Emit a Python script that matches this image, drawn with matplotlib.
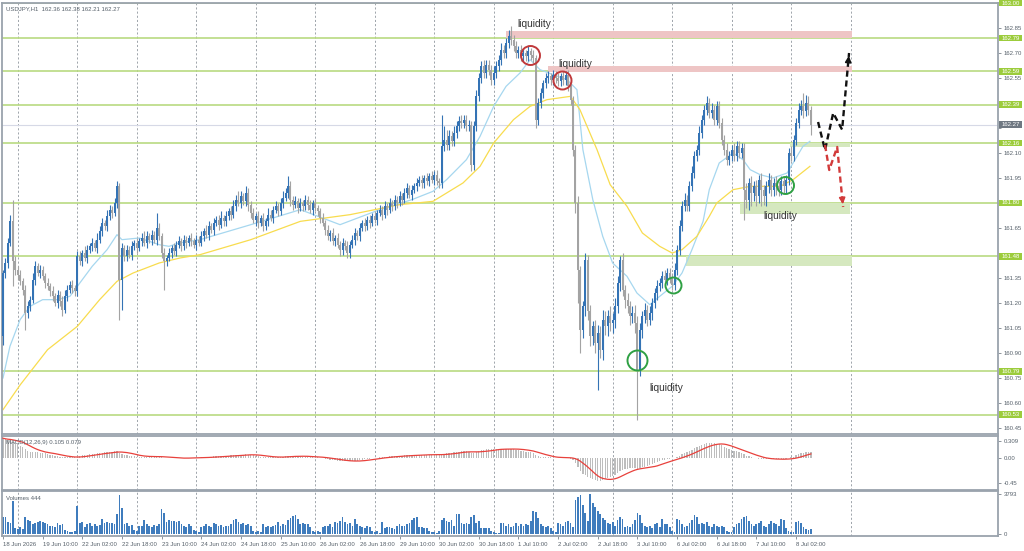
import numpy as np
import pandas as pd
import matplotlib
matplotlib.use('Agg')
import matplotlib.pyplot as plt
from matplotlib.patches import Rectangle
import matplotlib.transforms as mtransforms

plt.rcParams['font.family'] = ['Liberation Sans', 'DejaVu Sans']

# ---- data (USDJPY H1) ----
base_price = 160.00
first_open = 161.00
# closes in pips above 160.00, one per hourly bar
closes_pips = [
    138, 144, 156, 169, 145, 140, 137, 133, 128, 114,
    118, 122, 134, 142, 138, 140, 136, 132, 130, 127,
    124, 120, 125, 121, 116, 124, 128, 131, 129, 127,
    148, 145, 150, 147, 152, 154, 156, 153, 158, 163,
    168, 166, 172, 176, 174, 180, 190, 134, 153, 148,
    152, 149, 154, 156, 153, 157, 159, 156, 160, 158,
    161, 158, 165, 160, 150, 145, 147, 150, 153, 151,
    155, 157, 154, 158, 156, 159, 157, 155, 158, 156,
    160, 163, 161, 166, 164, 168, 170, 167, 171, 169,
    172, 175, 173, 178, 182, 180, 184, 181, 186, 179,
    174, 170, 172, 168, 171, 166, 169, 173, 171, 176,
    178, 175, 180, 183, 186, 190, 182, 179, 181, 177,
    180, 178, 182, 179, 176, 180, 177, 175, 171, 168,
    164, 160, 162, 157, 159, 155, 152, 156, 154, 150,
    155, 158, 162, 160, 165, 168, 166, 170, 168, 172,
    170, 174, 176, 173, 178, 176, 180, 178, 182, 180,
    184, 182, 186, 189, 185, 188, 190, 192, 194, 192,
    195, 193, 196, 194, 197, 193, 192, 214, 218, 215,
    220, 217, 222, 226, 229, 228, 230, 226, 227, 203,
    226, 244, 255, 262, 258, 263, 260, 254, 258, 262,
    266, 272, 270, 276, 280, 278, 274, 270, 272, 268,
    270, 268, 271, 269, 267, 230, 240, 246, 252, 255,
    256, 254, 257, 255, 253, 256, 254, 257, 250, 242,
    212, 180, 140, 104, 118, 146, 115, 100, 106, 96,
    102, 92, 110, 106, 112, 108, 110, 118, 132, 146,
    128, 122, 118, 112, 114, 108, 80, 104, 112, 116,
    110, 114, 120, 126, 130, 132, 136, 134, 138, 135,
    131, 140, 152, 166, 178, 182, 178, 190, 198, 208,
    212, 222, 230, 236, 240, 234, 236, 230, 238, 228,
    218, 212, 206, 208, 212, 208, 214, 210, 213, 188,
    182, 192, 186, 190, 184, 194, 188, 184, 190, 194,
    188, 192, 190, 188, 193, 190, 194, 210, 208, 218,
    228, 236, 238, 235, 240, 236, 227,
]
# wick above body top / below body bottom, pips
wick_up = [
    2, 3, 3, 4, 13, 3, 2, 3, 2, 3,  3, 2, 4, 3, 2, 3, 2, 2, 3, 2,
    3, 2, 3, 2, 3, 4, 3, 2, 3, 2,  3, 3, 2, 4, 3, 2, 3, 2, 4, 3,
    3, 2, 4, 3, 2, 3, 3, 2, 3, 2,  3, 2, 3, 2, 3, 2, 3, 4, 3, 2,
    3, 2, 9, 3, 2, 3, 2, 3, 2, 3,  2, 3, 2, 3, 2, 2, 3, 2, 3, 2,
    3, 2, 4, 3, 2, 3, 2, 3, 4, 2,  3, 2, 3, 4, 3, 5, 3, 2, 4, 3,
    2, 3, 2, 3, 2, 3, 2, 4, 3, 2,  3, 2, 3, 4, 3, 6, 3, 2, 3, 2,
    3, 2, 3, 2, 3, 2, 3, 2, 2, 3,  2, 3, 2, 3, 2, 3, 2, 3, 2, 3,
    2, 3, 3, 2, 3, 2, 3, 2, 3, 2,  3, 2, 3, 2, 3, 2, 3, 2, 3, 2,
    3, 2, 3, 3, 2, 3, 2, 3, 2, 3,  2, 3, 2, 3, 2, 3, 2, 19, 8, 6,
    4, 3, 4, 3, 3, 4, 3, 3, 3, 2,  3, 4, 3, 3, 4, 3, 3, 3, 4, 3,
    3, 4, 3, 3, 4, 6, 3, 3, 2, 3,  3, 2, 3, 2, 3, 2, 3, 3, 2, 3,
    3, 2, 3, 2, 3, 2, 3, 2, 3, 2,  2, 3, 4, 2, 3, 4, 3, 4, 3, 4,
    5, 4, 6, 5, 4, 6, 4, 5, 4, 2,  4, 3, 4, 3, 4, 5, 4, 4, 3, 4,
    3, 4, 3, 3, 4, 3, 3, 4, 3, 3,  3, 4, 3, 4, 3, 4, 3, 3, 4, 3,
    3, 4, 3, 3, 4, 3, 4, 3, 3, 3,  3, 3, 4, 3, 3, 4, 3, 3, 3, 3,
    4, 3, 4, 3, 4, 3, 4, 3, 3, 4,  3, 3, 4, 3, 3, 3, 3, 3, 4, 3,
    3, 4, 4, 8, 5, 4, 2,
]
wick_dn = [
    5, 3, 3, 2, 15, 3, 3, 2, 3, 10,  3, 3, 2, 3, 2, 3, 2, 3, 2, 3,
    3, 2, 3, 3, 4, 2, 3, 2, 3, 3,  3, 2, 3, 2, 3, 2, 3, 2, 3, 2,
    3, 2, 3, 2, 3, 2, 3, 24, 18, 3,  3, 2, 3, 2, 3, 2, 3, 2, 3, 2,
    3, 2, 3, 2, 3, 17, 3, 2, 3, 2,  3, 2, 3, 2, 3, 2, 3, 2, 3, 2,
    2, 3, 2, 3, 2, 3, 2, 3, 2, 3,  3, 2, 3, 2, 3, 2, 3, 2, 3, 4,
    3, 2, 4, 3, 2, 3, 2, 3, 2, 3,  2, 3, 2, 3, 2, 3, 4, 3, 2, 3,
    2, 3, 2, 3, 2, 3, 2, 3, 3, 2,  3, 2, 3, 2, 3, 2, 4, 3, 2, 3,
    3, 2, 3, 2, 3, 2, 3, 2, 3, 2,  2, 3, 2, 3, 2, 3, 2, 3, 2, 3,
    2, 3, 2, 3, 2, 3, 2, 3, 2, 3,  3, 2, 3, 2, 3, 2, 3, 3, 3, 3,
    3, 3, 3, 3, 3, 3, 3, 3, 3, 4,  3, 3, 3, 3, 3, 3, 3, 3, 3, 3,
    3, 3, 3, 3, 3, 3, 3, 3, 3, 3,  3, 3, 3, 3, 3, 5, 3, 3, 3, 3,
    3, 3, 3, 3, 3, 3, 3, 3, 3, 3,  4, 6, 20, 14, 5, 6, 5, 6, 5, 6,
    28, 5, 6, 5, 6, 5, 6, 5, 4, 5,  4, 5, 4, 5, 4, 6, 30, 4, 5, 4,
    4, 3, 4, 3, 4, 3, 3, 3, 3, 3,  3, 3, 3, 3, 3, 3, 3, 3, 3, 3,
    3, 3, 3, 3, 3, 3, 3, 3, 3, 3,  3, 3, 3, 3, 3, 3, 3, 3, 3, 18,
    5, 6, 8, 5, 6, 4, 10, 5, 6, 4,  4, 4, 5, 4, 3, 4, 4, 3, 3, 3,
    3, 3, 3, 4, 3, 3, 6,
]
volumes = [
    1600, 1650, 1100, 1050, 3100, 600, 500, 700, 450, 1600,
    1300, 1200, 900, 1000, 1150, 1200, 1100, 1000, 900, 750,
    800, 700, 1000, 850, 900, 400, 250, 200, 150, 300,
    2700, 1000, 1100, 700, 900, 1000, 800, 900, 750, 850,
    1400, 1000, 1100, 1000, 1050, 900, 1950, 3700, 2500, 900,
    1000, 800, 850, 400, 300, 750, 800, 1300, 900, 800,
    700, 850, 750, 900, 2400, 2000, 1100, 1300, 1200, 1250,
    1100, 1200, 900, 800, 700, 900, 800, 400, 300, 200,
    700, 800, 900, 750, 700, 1000, 900, 800, 850, 700,
    800, 750, 900, 1300, 1400, 1100, 900, 1000, 850, 900,
    800, 300, 200, 250, 150, 900, 700, 750, 650, 800,
    850, 1150, 800, 900, 850, 1300, 1500, 1700, 1800, 1400,
    900, 1000, 900, 950, 700, 300, 200, 250, 150, 700,
    800, 750, 900, 700, 1100, 1000, 1200, 1600, 1100, 900,
    1000, 800, 1400, 900, 800, 700, 600, 800, 700, 300,
    200, 250, 100, 1150, 600, 700, 650, 600, 500, 800,
    900, 750, 800, 900, 1000, 1300, 1500, 1600, 700, 650,
    600, 600, 300, 150, 200, 100, 300, 1300, 1500, 1200,
    1100, 1300, 800, 1900, 1950, 1000, 900, 1000, 900, 1600,
    1800, 1000, 1200, 600, 600, 550, 600, 300, 150, 100,
    100, 1000, 1000, 800, 900, 700, 800, 1000, 800, 900,
    800, 900, 850, 1200, 2200, 2100, 1500, 900, 800, 700,
    800, 600, 300, 200, 1000, 900, 800, 1100, 1200, 1000,
    700, 3200, 3500, 3700, 2800, 2000, 1200, 3793, 3000, 2600,
    2200, 1900, 1500, 1300, 1000, 900, 1100, 800, 1300, 1600,
    1400, 700, 800, 650, 900, 1300, 2000, 1800, 1000, 800,
    700, 800, 600, 900, 1000, 700, 1400, 900, 900, 700,
    300, 200, 1400, 1300, 900, 700, 800, 1000, 1300, 1800,
    1600, 900, 1000, 900, 1100, 800, 700, 900, 800, 700,
    800, 700, 300, 200, 150, 700, 900, 1000, 1400, 1600,
    1700, 1200, 900, 800, 900, 1000, 1200, 800, 700, 900,
    1200, 1000, 900, 800, 1400, 1300, 600, 300, 200, 200,
    1100, 1200, 1000, 700, 500, 400, 444,
]

# moving averages: (bar, price)
fast_ma = [(0, 160.75), (2.8, 160.94), (6.9, 161.10), (10.9, 161.18), (16, 161.22),
           (22, 161.22), (27, 161.24), (31, 161.32), (36, 161.42), (42, 161.52),
           (46, 161.61), (48, 161.58), (55, 161.59), (63, 161.55), (67, 161.54),
           (71, 161.56), (79.5, 161.58), (100, 161.67), (120, 161.76), (136, 161.67),
           (152, 161.76), (165, 161.82), (173.5, 161.87), (179, 161.94), (187, 162.06),
           (192.5, 162.20), (198, 162.38), (203, 162.50), (208.6, 162.58), (212.7, 162.66),
           (216.7, 162.60), (222, 162.57), (227.6, 162.54), (231.6, 162.48), (234, 162.12),
           (238, 161.82), (242, 161.60), (246, 161.44), (251.8, 161.36), (255.8, 161.26),
           (261, 161.19), (265, 161.24), (270, 161.30), (274, 161.38), (278, 161.52),
           (282.5, 161.69), (285, 161.88), (289, 162.04), (294.6, 162.10), (298.6, 162.06),
           (301.5, 162.00), (305.5, 161.97), (310.7, 161.95), (316.4, 161.98), (318.8, 162.04),
           (322.8, 162.14), (325.6, 162.17)]
slow_ma = [(0, 160.56), (7, 160.71), (18, 160.92), (30, 161.06), (39, 161.22),
           (46, 161.33), (52.5, 161.38), (63, 161.44), (71.4, 161.47), (79.5, 161.49),
           (100, 161.58), (120, 161.69), (140, 161.73), (160, 161.79), (173.5, 161.81),
           (185.6, 161.92), (192.5, 162.02), (198, 162.16), (206, 162.30), (212.7, 162.38),
           (219.5, 162.42), (229, 162.44), (232.8, 162.36), (239.7, 162.12), (245, 161.91),
           (251.8, 161.78), (258, 161.62), (265, 161.54), (270, 161.50), (274, 161.52),
           (280, 161.60), (285, 161.72), (288, 161.80), (294.6, 161.88), (301.5, 161.90),
           (308, 161.90), (313.6, 161.90), (318.8, 161.94), (325.6, 162.02)]
macd_start = 0.36

levels = [163.00, 162.79, 162.59, 162.39, 162.16, 161.80, 161.48, 160.79, 160.53]
last_price = 162.27
# zones: (bar from, bar to, price low, price high)
red_zones = [(203, 342.6, 162.79, 162.835), (220, 342.6, 162.585, 162.625)]
green_zones = [(297.4, 341.8, 161.735, 161.80), (275.6, 342.6, 161.42, 161.48),
               (317.6, 341.8, 162.135, 162.16)]
red_circles = [(212.7, 162.69, 9.5), (225.6, 162.54, 9)]
green_circles = [(255.8, 160.86, 10), (270.4, 161.31, 8), (315.6, 161.91, 8.5)]
liquidity_labels = [(214.3, 162.874), (230.8, 162.634), (267.6, 160.69), (313.6, 161.72)]
black_path = [(328.9, 162.286), (331.7, 162.118), (335.0, 162.34), (338.6, 162.24), (341.4, 162.70)]
red_path = [(331.7, 162.148), (333.4, 161.998), (336.6, 162.136), (339.0, 161.776)]

x_labels = ['18 Jun 2026', '19 Jun 10:00', '22 Jun 02:00', '22 Jun 18:00', '23 Jun 10:00',
            '24 Jun 02:00', '24 Jun 18:00', '25 Jun 10:00', '26 Jun 02:00', '26 Jun 18:00',
            '29 Jun 10:00', '30 Jun 02:00', '30 Jun 18:00', '1 Jul 10:00', '2 Jul 02:00',
            '2 Jul 18:00', '3 Jul 10:00', '6 Jul 02:00', '6 Jul 18:00', '7 Jul 10:00',
            '8 Jul 02:00']

# ---- derived series ----
n = len(closes_pips)
idx = np.arange(n)
c = base_price + np.array(closes_pips) / 100.0
o = np.r_[first_open, c[:-1]]
hi = np.maximum(o, c) + np.array(wick_up) / 100.0
lo = np.minimum(o, c) - np.array(wick_dn) / 100.0

e12 = np.zeros(n)
e26 = np.zeros(n)
e12[0] = c[0]
e26[0] = c[0] - macd_start
for k in range(1, n):
    e12[k] = e12[k - 1] + (c[k] - e12[k - 1]) * 2 / 13
    e26[k] = e26[k - 1] + (c[k] - e26[k - 1]) * 2 / 27
macd = e12 - e26
signal = pd.Series(macd).rolling(9, min_periods=1).mean().values

# ---- figure ----
W, H = 1024, 551
fig = plt.figure(figsize=(W / 100, H / 100), dpi=100)


def rect(x0, y0, x1, y1):
    return [x0 / W, 1 - y1 / H, (x1 - x0) / W, (y1 - y0) / H]


ax = fig.add_axes(rect(2, 3, 998, 434))
axm = fig.add_axes(rect(2, 436, 998, 490))
axv = fig.add_axes(rect(2, 491, 998, 536))

edge = '#9aa3ad'
txt = '#56606a'
grid_x = np.arange(6, 343, 24)
for a in (ax, axm, axv):
    a.set_xlim(-0.4, 401.5)
    for s in a.spines.values():
        s.set_color(edge)
        s.set_linewidth(1.3)
    a.yaxis.tick_right()
    a.tick_params(axis='y', length=2.5, width=0.6, color='#7a828a', labelsize=4.3,
                  labelcolor=txt, pad=1.5)
    a.tick_params(axis='x', length=0)
    a.set_xticks([])
    for g in grid_x:
        a.axvline(g, color='#8f969e', lw=0.6, ls=(0, (2.5, 2.5)), zorder=0)

# main price panel
ax.set_ylim(160.414, 163.0)
yt = np.round(np.arange(160.45, 162.86, 0.15), 2)
hidden = [162.40, 162.25, 161.80, 161.50]
ax.set_yticks(yt)
ax.set_yticklabels(['' if any(abs(v - h) < 0.001 for h in hidden) else '%.2f' % v for v in yt])

for lv in levels:
    ax.axhline(lv, color='#b9da82', lw=1.2, zorder=1)
ax.axhline(last_price, color='#d6d9e6', lw=0.8, zorder=1)

for x0, x1, y0, y1 in red_zones:
    ax.add_patch(Rectangle((x0, y0), x1 - x0, y1 - y0, fc='#eec5c5', ec='none', zorder=1.5))
for x0, x1, y0, y1 in green_zones:
    ax.add_patch(Rectangle((x0, y0), x1 - x0, y1 - y0, fc='#d5e8bf', ec='none', zorder=1.5))

ax.plot([p[0] for p in fast_ma], [p[1] for p in fast_ma], color='#a6d7ef', lw=0.9, zorder=2)
ax.plot([p[0] for p in slow_ma], [p[1] for p in slow_ma], color='#f8dc4e', lw=0.9, zorder=2)

up = c >= o
cols = np.where(up, '#3473b5', '#a3a3a3')
ax.vlines(idx, lo, hi, colors=cols, lw=0.8, zorder=3)
body = np.maximum(np.abs(c - o), 0.006)
ax.bar(idx, body, bottom=np.minimum(o, c), width=0.8, color=cols, linewidth=0, zorder=3)

for x, y, r in red_circles:
    ax.plot(x, y, 'o', ms=2 * r * 0.72, mfc='none', mec='#c0393b', mew=1.4, zorder=5)
for x, y, r in green_circles:
    ax.plot(x, y, 'o', ms=2 * r * 0.72, mfc='none', mec='#2ea043', mew=1.4, zorder=5)
for x, y in liquidity_labels:
    ax.text(x, y, 'liquidity', fontsize=7.3, color='#333333', ha='center', va='center', zorder=6)

for path, col in ((black_path, '#111111'), (red_path, '#d23a3a')):
    px = [p[0] for p in path]
    py = [p[1] for p in path]
    ax.plot(px, py, color=col, lw=1.7, ls=(0, (2.6, 1.6)), zorder=6)
    ax.annotate('', xy=(px[-1], py[-1]), xytext=(px[-1] - (px[-1] - px[-2]) * 0.15,
                                                  py[-1] - (py[-1] - py[-2]) * 0.15),
                arrowprops=dict(arrowstyle='-|>', color=col, lw=1.2, mutation_scale=9),
                zorder=7)

bt = mtransforms.blended_transform_factory(ax.transAxes, ax.transData)
box_h = 7 / 166.7
for lv in levels:
    ax.add_patch(Rectangle((1.001, lv - box_h / 2), 0.0235, box_h, transform=bt,
                           fc='#9ccc3c', ec='none', clip_on=False, zorder=8))
    ax.text(1.0035, lv, '%.2f' % lv, transform=bt, fontsize=4.3, color='white',
            va='center', ha='left', clip_on=False, zorder=9)
ax.add_patch(Rectangle((1.001, last_price - box_h / 2), 0.0235, box_h, transform=bt,
                       fc='#6f7882', ec='none', clip_on=False, zorder=8))
ax.text(1.0035, last_price, '%.2f' % last_price, transform=bt, fontsize=4.3, color='white',
        va='center', ha='left', clip_on=False, zorder=9)

ax.text(0.004, 0.992, 'USDJPY,H1  162.36 162.38 162.21 162.27', transform=ax.transAxes,
        fontsize=4.3, color=txt, va='top', ha='left')

# MACD panel
axm.set_ylim(-0.582, 0.40)
axm.bar(idx, macd, width=0.5, color='#bdbdbd', linewidth=0, zorder=2)
axm.plot(idx, signal, color='#e8413c', lw=0.9, zorder=3)
axm.set_yticks([0.309, 0.0, -0.45])
axm.set_yticklabels(['0.309', '0.00', '-0.45'])
axm.text(0.004, 0.93, 'MACD(12,26,9) 0.105 0.079', transform=axm.transAxes,
         fontsize=4.3, color=txt, va='top', ha='left')

# volume panel
axv.set_ylim(-200, 4100)
axv.bar(idx, volumes, width=0.72, color='#3f7cbd', linewidth=0, zorder=2)
axv.set_yticks([3793, 0])
axv.set_yticklabels(['3793', '0'])
axv.text(0.004, 0.9, 'Volumes 444', transform=axv.transAxes,
         fontsize=4.3, color=txt, va='top', ha='left')
axv.set_xticks(np.arange(0, 16 * len(x_labels), 16))
axv.set_xticklabels(x_labels, ha='left')
axv.tick_params(axis='x', length=2.5, width=0.6, color='#7a828a', labelsize=4.3,
                labelcolor=txt, pad=1.5)

fig.savefig('out.png', dpi=100, facecolor='white')
